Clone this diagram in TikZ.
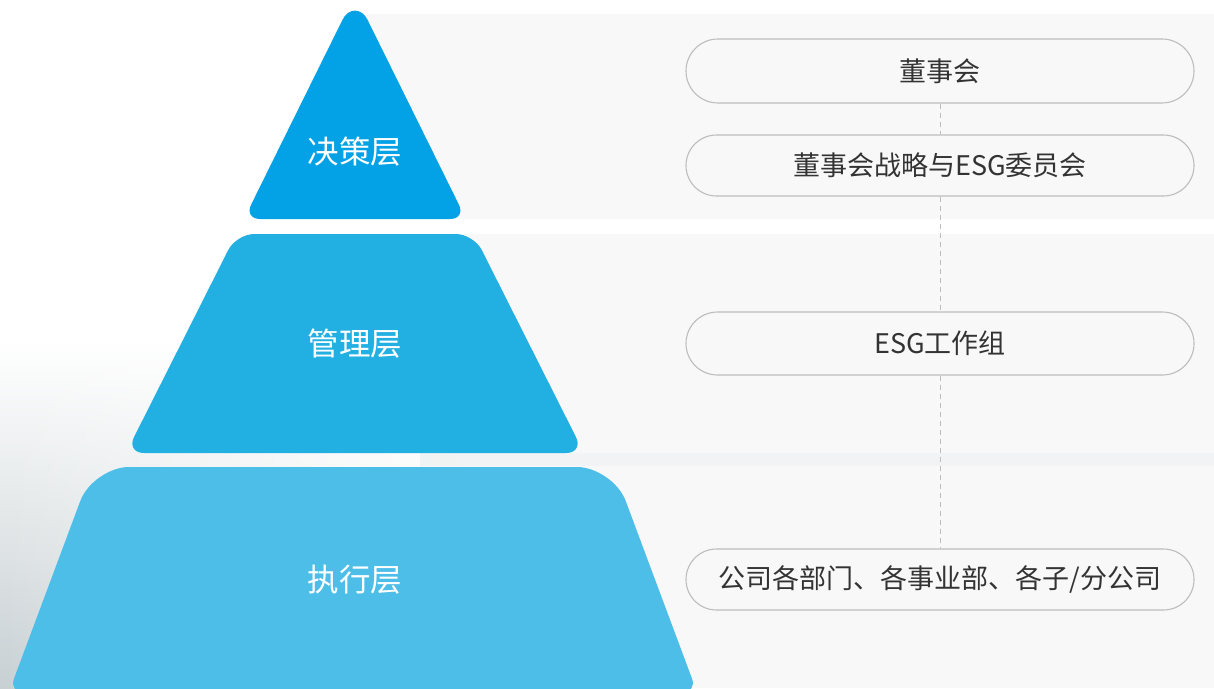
\documentclass[tikz,border=0pt]{standalone}
\usepackage{fontspec}
\newfontfamily\cjk{Noto Sans CJK SC}
\usetikzlibrary{shapes.misc,fadings}
\definecolor{topblue}{HTML}{03A2E6}
\definecolor{midblue}{HTML}{22B0E3}
\definecolor{lowblue}{HTML}{4CBEE8}
\definecolor{bandgray}{HTML}{F8F8F8}
\definecolor{pillline}{HTML}{BDBDBD}
\definecolor{pilltext}{HTML}{333333}
\definecolor{mistgray}{HTML}{C8D0D3}
\definecolor{mistmid}{HTML}{EEF1F2}
\tikzset{
  layerlabel/.style={text=white, font=\cjk\fontsize{31.5}{36}\selectfont, inner sep=0pt},
  pill/.style={rounded rectangle, draw=pillline, line width=1.1pt, fill=bandgray,
    minimum width=508pt, text=pilltext, font=\cjk\fontsize{27}{32}\selectfont, inner sep=0pt},
  dashline/.style={draw=pillline, line width=1pt, dash pattern=on 5pt off 4pt}
}
\begin{document}
\begin{tikzpicture}[x=1pt,y=-1pt]
\useasboundingbox (0,0) rectangle (1214,688);
\fill[white] (0,0) rectangle (1214,688);
% background bands
\fill[bandgray] (367,14) rectangle (1214,219);
\fill[bandgray] (420,234) rectangle (1214,688);
% misty landscape on the left
\shade[top color=white, middle color=mistmid, bottom color=mistgray, path fading=east] (0,340) rectangle (520,688);
% faint mist streak
\fill[mistmid, opacity=0.6] (420,453) rectangle (1214,466);
% top layer (triangle)
\fill[topblue, rounded corners=16pt] (355,219) -- (466,219) -- (374.5,33.9)
  .. controls (361.5,7.6) and (348.5,7.6) .. (335.5,33.9) -- (244,219) -- cycle;
% middle layer
\fill[midblue, rounded corners=18pt] (236.3,234) -- (473.7,234) -- (584,453) -- (126,453) -- cycle;
% bottom layer
\fill[lowblue, rounded corners=14pt] (353,692) -- (697,692) -- (630.5,513.8)
  .. controls (618.8,482.6) and (596.3,467) .. (563,467) -- (143,467)
  .. controls (109.7,467) and (87.2,482.6) .. (75.5,513.8) -- (9,692) -- cycle;
% layer labels
\node[layerlabel] (l1) at (355,152) {决策层};
\node[layerlabel] (l2) at (355,344) {管理层};
\node[layerlabel] (l3) at (355,580) {执行层};
% pills
\node[pill, minimum height=64pt] (p1) at (940,71) {董事会};
\node[pill, minimum height=61pt] (p2) at (940,165.5) {董事会战略与ESG委员会};
\node[pill, minimum height=63pt] (p3) at (940,343.5) {ESG工作组};
\node[pill, minimum height=61pt] (p4) at (940,579.5) {公司各部门、各事业部、各子/分公司};
% connectors
\draw[dashline] (p1.south) -- (p2.north);
\draw[dashline] (p2.south) -- (p3.north);
\draw[dashline] (p3.south) -- (p4.north);
\end{tikzpicture}
\end{document}
